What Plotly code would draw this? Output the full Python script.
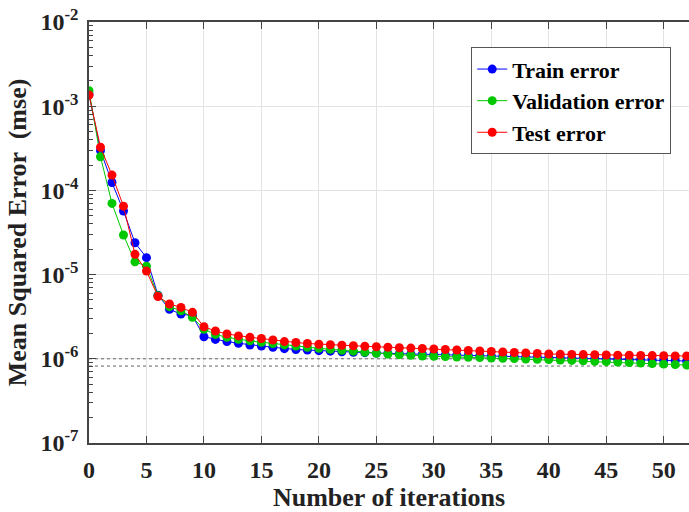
import plotly.graph_objects as go

iterations = list(range(0, 53))

train_error = [
    1.38e-3, 2.97e-4, 1.24e-4, 5.7e-5, 2.39e-5, 1.59e-5, 5.7e-6, 3.87e-6, 3.40e-6, 3.25e-6,
    1.83e-6, 1.70e-6, 1.60e-6, 1.53e-6, 1.46e-6, 1.42e-6, 1.37e-6, 1.32e-6, 1.29e-6, 1.27e-6,
    1.249e-6, 1.232e-6, 1.214e-6, 1.196e-6, 1.183e-6, 1.170e-6, 1.161e-6, 1.152e-6, 1.142e-6, 1.134e-6,
    1.124e-6, 1.115e-6, 1.106e-6, 1.097e-6, 1.088e-6, 1.080e-6, 1.071e-6, 1.062e-6, 1.054e-6, 1.045e-6,
    1.037e-6, 1.028e-6, 1.020e-6, 1.012e-6, 1.003e-6, 0.995e-6, 0.987e-6, 0.979e-6, 0.971e-6, 0.962e-6,
    0.954e-6, 0.947e-6, 0.941e-6,
]

validation_error = [
    1.53e-3, 2.51e-4, 7.0e-5, 2.95e-5, 1.42e-5, 1.26e-5, 5.6e-6, 4.16e-6, 3.72e-6, 3.11e-6,
    2.24e-6, 1.95e-6, 1.80e-6, 1.704e-6, 1.635e-6, 1.574e-6, 1.519e-6, 1.462e-6, 1.419e-6, 1.373e-6,
    1.332e-6, 1.296e-6, 1.262e-6, 1.232e-6, 1.196e-6, 1.161e-6, 1.140e-6, 1.119e-6, 1.101e-6, 1.080e-6,
    1.071e-6, 1.062e-6, 1.051e-6, 1.043e-6, 1.034e-6, 1.022e-6, 1.014e-6, 1.006e-6, 0.995e-6, 0.986e-6,
    0.978e-6, 0.968e-6, 0.957e-6, 0.947e-6, 0.934e-6, 0.924e-6, 0.914e-6, 0.901e-6, 0.889e-6, 0.877e-6,
    0.865e-6, 0.853e-6, 0.844e-6,
]

test_error = [
    1.36e-3, 3.25e-4, 1.52e-4, 6.5e-5, 1.74e-5, 1.10e-5, 5.5e-6, 4.48e-6, 4.08e-6, 3.56e-6,
    2.40e-6, 2.14e-6, 1.97e-6, 1.87e-6, 1.80e-6, 1.74e-6, 1.67e-6, 1.60e-6, 1.56e-6, 1.52e-6,
    1.49e-6, 1.47e-6, 1.45e-6, 1.43e-6, 1.41e-6, 1.39e-6, 1.373e-6, 1.354e-6, 1.340e-6, 1.325e-6,
    1.307e-6, 1.289e-6, 1.272e-6, 1.254e-6, 1.237e-6, 1.221e-6, 1.204e-6, 1.188e-6, 1.172e-6, 1.156e-6,
    1.140e-6, 1.134e-6, 1.128e-6, 1.122e-6, 1.116e-6, 1.110e-6, 1.104e-6, 1.101e-6, 1.095e-6, 1.092e-6,
    1.086e-6, 1.083e-6, 1.080e-6,
]

reference_levels = [1.0e-6, 8.2e-7]

series_names = ["Train error", "Validation error", "Test error"]
series_colors = ["#0000ff", "#00c800", "#ff0000"]

y_tick_vals = [1e-7, 1e-6, 1e-5, 1e-4, 1e-3, 1e-2]
y_tick_text = ["10<sup>-7</sup>", "10<sup>-6</sup>", "10<sup>-5</sup>",
               "10<sup>-4</sup>", "10<sup>-3</sup>", "10<sup>-2</sup>"]
x_tick_vals = [0, 5, 10, 15, 20, 25, 30, 35, 40, 45, 50]

FONT = "Liberation Serif"

fig = go.Figure()

x_end = 52.2
for lvl in reference_levels:
    fig.add_trace(go.Scatter(
        x=[0, x_end], y=[lvl, lvl], mode="lines",
        line=dict(color="#666666", width=1, dash="dot"),
        showlegend=False, hoverinfo="skip",
    ))

for name, data, color in zip(series_names, [train_error, validation_error, test_error], series_colors):
    fig.add_trace(go.Scatter(
        x=iterations, y=data, mode="lines+markers", name=name,
        line=dict(color=color, width=1),
        marker=dict(color=color, size=9, symbol="circle"),
    ))

fig.update_layout(
    width=689, height=512,
    margin=dict(l=89, r=0, t=22, b=69),
    paper_bgcolor="white", plot_bgcolor="white",
    font=dict(family=FONT, color="#222222"),
    legend=dict(
        x=0.637, y=0.94, xanchor="left", yanchor="top",
        bgcolor="white", bordercolor="#555555", borderwidth=1,
        font=dict(family=FONT, size=22, color="black", weight="bold"),
        tracegroupgap=0, itemwidth=30,
    ),
    showlegend=True,
)

fig.update_xaxes(
    range=[0, x_end],
    tickmode="array", tickvals=x_tick_vals,
    ticks="inside", ticklen=7, tickcolor="#444444", tickwidth=1,
    showline=True, linecolor="#444444", linewidth=1.5, mirror="ticks",
    showgrid=True, gridcolor="#e3e3e3", gridwidth=1,
    zeroline=False,
    tickfont=dict(family=FONT, size=24, color="#222222", weight="bold"),
    ticklabelstandoff=4,
    title=dict(text="Number of iterations",
               font=dict(family=FONT, size=26, color="#222222", weight="bold"),
               standoff=2),
)

fig.update_yaxes(
    type="log", range=[-7, -2],
    tickmode="array", tickvals=y_tick_vals, ticktext=y_tick_text,
    ticks="inside", ticklen=7, tickcolor="#444444", tickwidth=1,
    minor=dict(dtick="D1", ticks="inside", ticklen=4, tickcolor="#444444", showgrid=False),
    showline=True, linecolor="#444444", linewidth=1.5,
    showgrid=True, gridcolor="#e3e3e3", gridwidth=1,
    zeroline=False,
    tickfont=dict(family=FONT, size=24, color="#222222", weight="bold"),
    ticklabelstandoff=4,
    title=dict(text="Mean Squared Error  (mse)",
               font=dict(family=FONT, size=26, color="#222222", weight="bold"),
               standoff=6),
)

fig.write_html("out.html")
